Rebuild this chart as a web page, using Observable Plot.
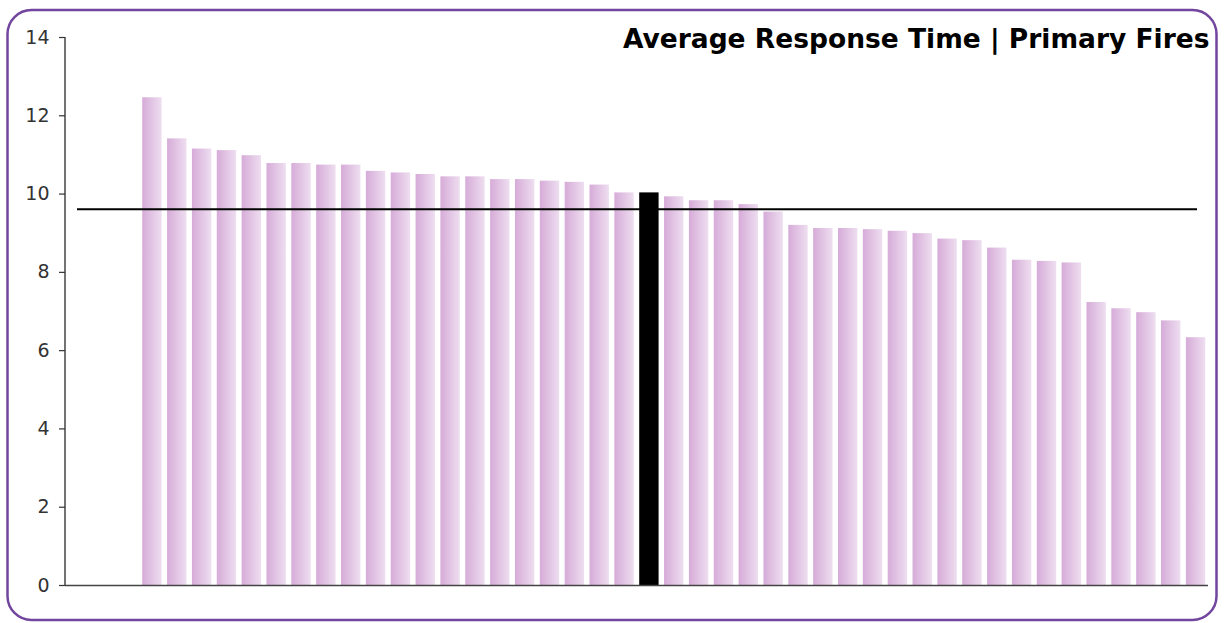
<!DOCTYPE html>
<html>
<head>
<meta charset="utf-8">
<script src="https://cdn.jsdelivr.net/npm/d3@7"></script>
<script src="https://cdn.jsdelivr.net/npm/@observablehq/plot@0.6"></script>
<style>
  html, body { margin: 0; padding: 0; background: #fff; }
  #chart { width: 1224px; height: 623px; }
</style>
</head>
<body>
<div id="chart"></div>
<script>
// ---- data ----
const titleText = "Average Response Time | Primary Fires";
const stations = Array.from({length: 43}, (_, i) => `S${i + 1}`);
const responseTimes = [
  12.46, 11.41, 11.15, 11.11, 10.98, 10.78, 10.78, 10.74, 10.74, 10.58,
  10.54, 10.50, 10.44, 10.44, 10.37, 10.37, 10.33, 10.30, 10.23, 10.03,
  10.03, 9.93, 9.83, 9.83, 9.73, 9.54, 9.20, 9.12, 9.12, 9.09,
  9.05, 8.99, 8.85, 8.81, 8.62, 8.31, 8.28, 8.24, 7.23, 7.07,
  6.97, 6.76, 6.33
];
const highlighted = ["S21"];
const averageTime = [9.61];
const yTicks = [0, 2, 4, 6, 8, 10, 12, 14];

const rows = stations.map((s, i) => ({station: s, time: responseTimes[i], hi: highlighted.includes(s)}));

const decor = (index, scales, values, dimensions) => {
  const g = d3.create("svg:g");
  const defs = g.append("defs");
  const grad = defs.append("linearGradient").attr("id", "barGrad")
    .attr("x1", "0").attr("x2", "1").attr("y1", "0").attr("y2", "0");
  grad.append("stop").attr("offset", "0%").attr("stop-color", "#d6abd8");
  grad.append("stop").attr("offset", "100%").attr("stop-color", "#eedef0");
  // y axis line
  g.append("line")
    .attr("x1", dimensions.marginLeft).attr("x2", dimensions.marginLeft)
    .attr("y1", scales.y(yTicks[yTicks.length - 1])).attr("y2", scales.y(0))
    .attr("stroke", "#444").attr("stroke-width", 1.5);
  // outer rounded border
  g.append("rect")
    .attr("x", 7.5).attr("y", 10).attr("width", dimensions.width - 15).attr("height", dimensions.height - 13)
    .attr("rx", 24).attr("ry", 24)
    .attr("fill", "none").attr("stroke", "#72459e").attr("stroke-width", 2.5);
  return g.node();
};

const chart = Plot.plot({
  width: 1224,
  height: 623,
  marginLeft: 65,
  marginRight: 16,
  marginTop: 37,
  marginBottom: 38,
  style: {fontFamily: "DejaVu Sans", fontSize: "19px", background: "#fff", color: "#333"},
  x: {domain: stations, insetLeft: 74.5, paddingInner: 0.22, paddingOuter: 0.11, axis: null},
  y: {domain: [0, 14], axis: null},
  marks: [
    decor,
    Plot.barY(rows.filter(d => !d.hi), {x: "station", y: "time", fill: "url(#barGrad)"}),
    Plot.barY(rows.filter(d => d.hi), {x: "station", y: "time", fill: "#000"}),
    Plot.ruleY([0], {stroke: "#444", strokeWidth: 1.5}),
    Plot.ruleY(averageTime, {stroke: "#000", strokeWidth: 2, insetLeft: 12, insetRight: 11}),
    Plot.axisY({ticks: yTicks, tickSize: 6, tickPadding: 10, fontSize: 19, label: null, color: "#333", strokeWidth: 1.2}),
    Plot.text([titleText], {frameAnchor: "top-right", text: d => d, dx: 1, dy: 2, lineAnchor: "middle",
      fontSize: 26.5, fontWeight: "bold", fill: "#000", fontFamily: "DejaVu Sans"})
  ]
});
document.getElementById("chart").appendChild(chart);
</script>
</body>
</html>
